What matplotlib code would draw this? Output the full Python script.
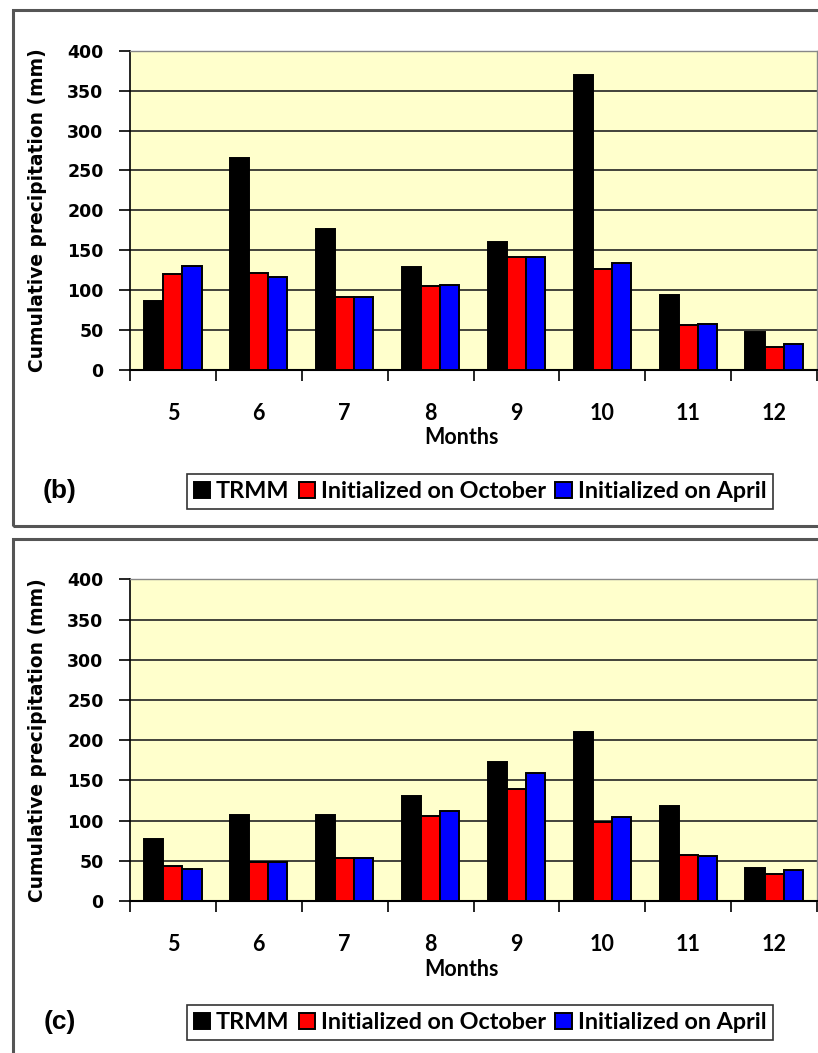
# Monthly cumulative precipitation: TRMM vs. model runs, panels (b) and (c)

import numpy as np
import matplotlib
matplotlib.use("Agg")
import matplotlib.pyplot as plt
from matplotlib.patches import Rectangle

months = ["5", "6", "7", "8", "9", "10", "11", "12"]
series_names = ["TRMM", "Initialized on October", "Initialized on April"]
series_colors = ["#000000", "#ff0000", "#0000ff"]

# panel (b)
trmm_b = [86, 266, 177, 129, 160, 369, 94, 48]
oct_b = [120, 122, 91, 105, 142, 127, 56, 29]
apr_b = [130, 117, 91, 107, 141, 134, 58, 33]

# panel (c)
trmm_c = [77, 107, 107, 130, 173, 210, 118, 41]
oct_c = [44, 48, 54, 106, 139, 98, 57, 34]
apr_c = [40, 49, 53, 112, 159, 104, 56, 38]

W, H = 818, 1053
fig = plt.figure(figsize=(W / 100, H / 100), dpi=100)
fig.patch.set_facecolor("white")

label_font = ["Lato", "DejaVu Sans"]


def px_box(x0, y0, x1, y1):
    # pixel box (top-left origin) -> figure fraction [left, bottom, width, height]
    return [x0 / W, 1 - y1 / H, (x1 - x0) / W, (y1 - y0) / H]


def draw_panel(frame_top, frame_bottom, ax_top, ax_bottom, legend_top, tag, data):
    # outer frame of the panel
    fx, fy, fw, fh = px_box(13, frame_top, 840, frame_bottom)
    fig.patches.append(Rectangle((fx, fy), fw, fh, transform=fig.transFigure,
                                 fill=False, edgecolor="#555555", lw=2.2,
                                 clip_on=False))

    ax = fig.add_axes(px_box(130, ax_top, 817, ax_bottom))
    ax.set_facecolor("#ffffcc")

    x = np.arange(len(months))
    w = 0.222
    handles = []
    for i, (vals, col, name) in enumerate(zip(data, series_colors, series_names)):
        b = ax.bar(x + (i - 1) * w, vals, width=w, color=col,
                   edgecolor="black", linewidth=1.4, label=name, zorder=3)
        handles.append(b)

    ax.set_xlim(-0.5, len(months) - 0.5)
    ax.set_ylim(0, 400)
    ax.set_yticks(np.arange(0, 401, 50))
    ax.yaxis.grid(True, color="#222222", lw=1.2, zorder=0)
    ax.set_axisbelow(True)

    # ticks on category boundaries, labels in the middle
    ax.set_xticks(np.arange(-0.5, len(months), 1.0))
    ax.set_xticklabels([])
    ax.set_xticks(x, minor=True)
    ax.set_xticklabels(months, minor=True, fontsize=15.5, fontweight="bold",
                       family=label_font)
    ax.tick_params(axis="x", which="major", direction="out", length=8,
                   width=1.2, color="black")
    ax.tick_params(axis="x", which="minor", length=0, pad=24)
    ax.tick_params(axis="y", direction="out", length=8, width=1.2, pad=11)
    for lab in ax.get_yticklabels():
        lab.set_fontsize(12.5)
        lab.set_fontweight("bold")

    for side in ["top", "right"]:
        ax.spines[side].set_color("#888888")
        ax.spines[side].set_linewidth(1.0)
    ax.spines["left"].set_linewidth(1.2)
    ax.spines["bottom"].set_linewidth(1.5)

    ax.set_ylabel("Cumulative precipitation (mm)", fontsize=13.4, fontweight="bold")
    ax.yaxis.set_label_coords(-0.134, 0.5)
    ax.yaxis.label.set_va("center")
    ax.set_xlabel("Months", fontsize=15.5, fontweight="bold", family=label_font)
    ax.xaxis.set_label_coords(0.483, -0.212)
    ax.xaxis.label.set_va("center")

    lx, ly, lw_, lh = px_box(181, legend_top, 779, legend_top + 39)
    leg = fig.legend(handles=handles, loc="center",
                     bbox_to_anchor=(lx + lw_ / 2, ly + lh / 2), ncol=3,
                     frameon=True, fancybox=False, shadow=False,
                     handlelength=0.7, handleheight=0.7, handletextpad=0.25,
                     columnspacing=0.4, borderpad=0.3,
                     prop={"family": label_font, "weight": "bold", "size": 16.8})
    leg.get_frame().set_edgecolor("black")
    leg.get_frame().set_linewidth(1.2)

    fig.text(60 / W, 1 - (legend_top + 19) / H, tag, ha="center", va="center",
             fontsize=19, fontweight="bold", family="Liberation Sans")
    return ax


draw_panel(10, 526, 50.7, 370, 472, "(b)", [trmm_b, oct_b, apr_b])
draw_panel(539, 1100, 579.3, 901, 1003, "(c)", [trmm_c, oct_c, apr_c])

fig.savefig("out.png", dpi=100)
